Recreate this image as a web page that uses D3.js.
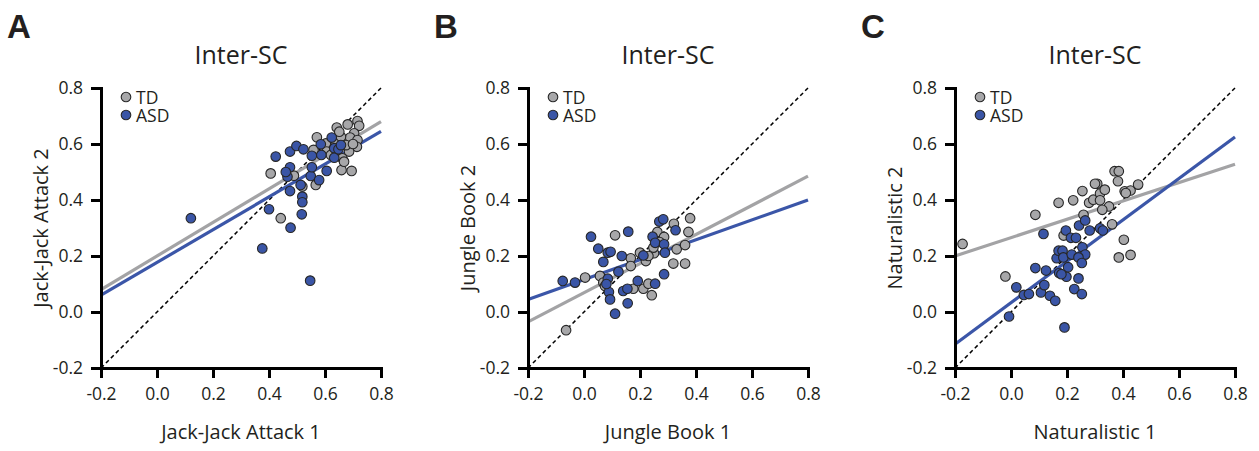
<!DOCTYPE html>
<html>
<head>
<meta charset="utf-8">
<script src="https://cdn.jsdelivr.net/npm/d3@7"></script>
<style>
  body { margin: 0; background: #fff; }
  svg text { font-family: "Open Sans", sans-serif; fill: #231f20; }
  .axis path, .axis line { stroke: #000; stroke-width: 3; }
  .letter { font-family: "Liberation Sans", Arial, sans-serif !important; font-weight: bold; }
</style>
</head>
<body>
<script>
// inter-subject correlation scatter plots, three movies

var ticks = [-0.2, 0.0, 0.2, 0.4, 0.6, 0.8];
var letters = ["A", "B", "C"];
var titles = ["Inter-SC", "Inter-SC", "Inter-SC"];
var xLabels = ["Jack-Jack Attack 1", "Jungle Book 1", "Naturalistic 1"];
var yLabels = ["Jack-Jack Attack 2", "Jungle Book 2", "Naturalistic 2"];
var groups = ["TD", "ASD"];

// [x, y] per subject
var tdA = [[0.406,0.495],[0.442,0.335],[0.489,0.487],[0.519,0.448],[0.567,0.454],[0.559,0.579],[0.571,0.624],
  [0.603,0.602],[0.642,0.659],[0.681,0.670],[0.716,0.682],[0.722,0.665],[0.704,0.638],[0.690,0.623],[0.716,0.614],
  [0.714,0.590],[0.686,0.573],[0.662,0.549],[0.659,0.507],[0.695,0.504],[0.606,0.573],[0.639,0.602],[0.657,0.626],
  [0.675,0.596],[0.621,0.561],[0.651,0.644],[0.700,0.600],[0.640,0.580],[0.668,0.537]];
var asdA = [[0.121,0.335],[0.376,0.227],[0.400,0.367],[0.424,0.555],[0.466,0.483],[0.475,0.517],[0.475,0.573],
  [0.475,0.432],[0.477,0.301],[0.498,0.593],[0.513,0.454],[0.517,0.349],[0.519,0.412],[0.519,0.392],[0.523,0.581],
  [0.547,0.112],[0.549,0.486],[0.553,0.558],[0.553,0.517],[0.579,0.471],[0.585,0.599],[0.587,0.561],[0.606,0.504],
  [0.624,0.623],[0.633,0.585],[0.633,0.551],[0.648,0.581],[0.657,0.596],[0.460,0.500]];

var tdB = [[-0.064,-0.065],[0.004,0.123],[0.057,0.129],[0.069,0.105],[0.075,0.093],[0.111,0.274],[0.167,0.192],
  [0.167,0.164],[0.176,0.083],[0.200,0.212],[0.221,0.182],[0.212,0.083],[0.230,0.101],[0.242,0.060],[0.250,0.210],
  [0.262,0.286],[0.286,0.268],[0.321,0.315],[0.331,0.224],[0.319,0.173],[0.361,0.173],[0.361,0.239],[0.373,0.286],
  [0.379,0.335],[0.248,0.230],[0.270,0.250],[0.230,0.200]];
var asdB = [[-0.076,0.111],[-0.032,0.105],[0.025,0.269],[0.051,0.226],[0.085,0.212],[0.095,0.215],[0.069,0.179],
  [0.085,0.119],[0.089,0.071],[0.093,0.045],[0.111,-0.006],[0.123,0.144],[0.135,0.200],[0.158,0.287],[0.140,0.075],
  [0.155,0.083],[0.156,0.031],[0.192,0.111],[0.212,0.202],[0.254,0.101],[0.245,0.269],[0.254,0.247],[0.269,0.323],
  [0.283,0.331],[0.286,0.242],[0.289,0.212],[0.327,0.292],[0.286,0.135],[0.080,0.100]];

var tdC = [[-0.173,0.243],[-0.020,0.127],[0.087,0.347],[0.170,0.390],[0.222,0.399],[0.255,0.432],[0.259,0.347],
  [0.279,0.390],[0.294,0.401],[0.308,0.458],[0.300,0.458],[0.318,0.423],[0.318,0.399],[0.335,0.437],[0.350,0.377],
  [0.326,0.365],[0.361,0.313],[0.370,0.503],[0.385,0.503],[0.382,0.467],[0.406,0.431],[0.427,0.434],[0.454,0.455],
  [0.403,0.258],[0.385,0.195],[0.427,0.204],[0.188,0.273],[0.410,0.425]];
var asdC = [[-0.007,-0.016],[0.019,0.088],[0.046,0.061],[0.064,0.064],[0.087,0.157],[0.107,0.070],[0.119,0.096],
  [0.125,0.148],[0.139,0.058],[0.158,0.040],[0.116,0.279],[0.172,0.139],[0.198,0.126],[0.204,0.160],[0.191,-0.055],
  [0.163,0.192],[0.170,0.219],[0.184,0.219],[0.187,0.195],[0.196,0.291],[0.214,0.265],[0.232,0.265],[0.217,0.205],
  [0.241,0.120],[0.226,0.082],[0.253,0.064],[0.243,0.309],[0.265,0.327],[0.281,0.291],[0.255,0.231],[0.265,0.205],
  [0.241,0.195],[0.253,0.175],[0.318,0.299],[0.328,0.291],[0.180,0.135]];

// fitted lines: y value at x = -0.2 and at x = 0.8
var fitTD = [[0.080, 0.680], [-0.035, 0.485], [0.200, 0.528]];
var fitASD = [[0.060, 0.645], [0.045, 0.400], [-0.115, 0.625]];

var tdAll = [tdA, tdB, tdC];
var asdAll = [asdA, asdB, asdC];

window.onload = function(){
    var w = 1259, h = 451;
    var panelLeft = [101, 528, 955]; //x of y axis per panel
    var size = 280, plotTop = 88;
    var grayFill = "#a7a7a9", blueFill = "#3a55a6";
    var grayLine = "#a3a3a5", blueLine = "#3b56a8";
    var rad = 4.8;

    var svg = d3.select("body").append("svg")
        .attr("width", w)
        .attr("height", h);

    letters.forEach(function(letter, i){
        var g = svg.append("g").attr("transform", "translate(" + panelLeft[i] + "," + plotTop + ")");

        var x = d3.scaleLinear().domain([-0.2, 0.8]).range([0, size]);
        var y = d3.scaleLinear().domain([-0.2, 0.8]).range([size, 0]);

        //panel letter
        svg.append("text")
            .attr("class", "letter")
            .attr("x", panelLeft[i] - 94)
            .attr("y", 38)
            .style("font-size", "33px")
            .text(letter);

        //title
        g.append("text")
            .attr("x", size / 2)
            .attr("y", -24)
            .attr("text-anchor", "middle")
            .style("font-size", "25px")
            .text(titles[i]);

        //identity line
        g.append("line")
            .attr("x1", x(-0.2)).attr("y1", y(-0.2))
            .attr("x2", x(0.8)).attr("y2", y(0.8))
            .style("stroke", "#000")
            .style("stroke-width", 1.5)
            .style("stroke-dasharray", "4,3");

        //regression lines
        [[fitTD[i], grayLine], [fitASD[i], blueLine]].forEach(function(f){
            g.append("line")
                .attr("x1", x(-0.2)).attr("y1", y(f[0][0]))
                .attr("x2", x(0.8)).attr("y2", y(f[0][1]))
                .style("stroke", f[1])
                .style("stroke-width", 3.2);
        });

        //points, TD under ASD
        [[tdAll[i], grayFill], [asdAll[i], blueFill]].forEach(function(s){
            g.selectAll(null)
                .data(s[0])
                .enter()
                .append("circle")
                .attr("cx", function(d){ return x(d[0]); })
                .attr("cy", function(d){ return y(d[1]); })
                .attr("r", rad)
                .style("fill", s[1])
                .style("stroke", "#262626")
                .style("stroke-width", 1.1);
        });

        //axes
        var fmt = function(d){ return d.toFixed(1); };
        g.append("g").attr("class", "axis")
            .call(d3.axisLeft(y).tickValues(ticks).tickFormat(fmt).tickSize(10).tickSizeOuter(0).tickPadding(8));
        g.append("g").attr("class", "axis")
            .attr("transform", "translate(0," + size + ")")
            .call(d3.axisBottom(x).tickValues(ticks).tickFormat(fmt).tickSize(10).tickSizeOuter(0).tickPadding(10));
        g.selectAll(".axis text").style("font-size", "17.5px").style("font-family", "Open Sans").attr("fill", "#231f20");
        g.selectAll(".axis .domain").attr("stroke-linecap", "square");

        //axis labels
        g.append("text")
            .attr("x", size / 2)
            .attr("y", size + 71)
            .attr("text-anchor", "middle")
            .style("font-size", "20px")
            .text(xLabels[i]);

        g.append("text")
            .attr("transform", "translate(-53," + (size / 2) + ") rotate(-90)")
            .attr("text-anchor", "middle")
            .style("font-size", "20px")
            .text(yLabels[i]);

        //legend
        var leg = g.selectAll(".leg")
            .data(groups)
            .enter()
            .append("g")
            .attr("transform", function(d, j){ return "translate(25," + (9 + j * 18) + ")"; });
        leg.append("circle")
            .attr("r", rad)
            .style("fill", function(d, j){ return j == 0 ? grayFill : blueFill; })
            .style("stroke", "#262626")
            .style("stroke-width", 1.1);
        leg.append("text")
            .attr("x", 10)
            .attr("y", 6.5)
            .style("font-size", "17.5px")
            .text(function(d){ return d; });
    });
};
</script>
</body>
</html>
